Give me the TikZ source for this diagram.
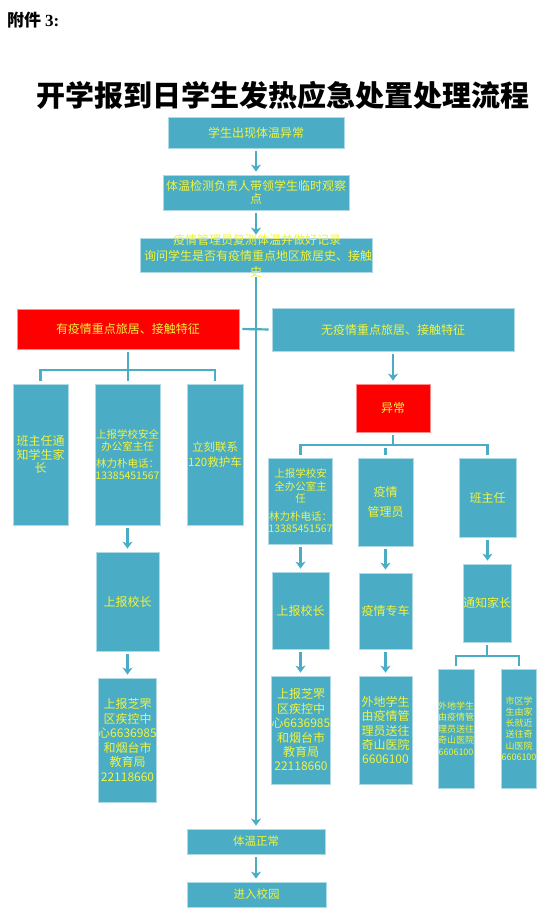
\documentclass[tikz,border=0pt]{standalone}
\usepackage{fontspec}
\newfontfamily\cjk{Noto Sans CJK SC}
\newfontfamily\tnr{Liberation Serif}
\usetikzlibrary{arrows.meta}
\definecolor{boxc}{HTML}{4BACC6}
\definecolor{txtc}{HTML}{F0F43C}
\definecolor{redc}{HTML}{FF0000}
\definecolor{lnc}{HTML}{4BACC6}
\newcommand\fs[2]{\fontsize{#1}{#2}\selectfont}
\newcommand\mkbox[7]{\node[#6, minimum width={#4-#2}, minimum height={#5-#3}] (#1) at ({(#2+#4)/2},{(#3+#5)/2}) {#7};}
\tikzset{
  bx/.style={fill=boxc, draw=boxc!45!white, line width=0.8pt, inner sep=0pt, align=center, text=txtc, font=\cjk\fs{12}{14}},
  rbx/.style={bx, fill=redc, draw=redc!45!white},
  txt/.style={inner sep=0pt, align=center, text=txtc, font=\cjk\fs{12}{14}},
  ln/.style={draw=lnc, line width=2.2pt, shorten <=3pt, shorten >=3pt},
  arr/.style={ln, -{Stealth[length=7pt,width=10pt,inset=2pt]}},
}
\begin{document}
\begin{tikzpicture}[x=1pt,y=-1pt]
\useasboundingbox (0,0) rectangle (555,919);
\fill[white] (0,0) rectangle (555,919);
% headings
\node[anchor=west, inner sep=0pt] (att) at (7,20) {\cjk\bfseries\fs{17}{17}附件\ \tnr\bfseries 3:};
\node[inner sep=0pt] (title) at (283,95) {\cjk\bfseries\fs{29}{29}开学报到日学生发热应急处置处理流程};
% top chain
\mkbox{b1}{168}{117}{344}{148}{bx}{学生出现体温异常}
\mkbox{b2}{163}{175}{349}{210}{bx, font=\cjk\fs{12}{13}}{体温检测负责人带领学生临时观察\\点}
\mkbox{b3}{140}{238}{372}{272}{bx}{}
\node[txt] (b3a) at (257,240) {疫情管理员复测体温并做好记录};
\node[txt] (b3b) at (258,256) {询问学生是否有疫情重点地区旅居史、接触};
\node[txt] (b3c) at (256,272) {史};
% branches
\mkbox{red}{17}{309}{239}{349}{rbx}{有疫情重点旅居、接触特征}
\mkbox{no}{272}{308}{514}{351}{bx}{无疫情重点旅居、接触特征}
% left branch
\mkbox{L1}{13}{384}{68}{525}{bx, font=\cjk\fs{12}{13.5}}{班主任通\\知学生家\\长}
\mkbox{L2}{95}{384}{160}{525}{bx, font=\cjk\fs{10.5}{12.5}}{上报学校安全\\办公室主任\\[4pt]林力朴电话：\\13385451567}
\mkbox{L3}{187}{384}{243}{525}{bx, font=\cjk\fs{11.5}{15}}{立刻联系\\120救护车}
\mkbox{L4}{96}{552}{159}{651}{bx}{上报校长}
\mkbox{L5}{99}{678}{156}{802}{bx, font=\cjk\fs{12}{14.6}}{上报芝罘\\区疾控中\\心6636985\\和烟台市\\教育局\\22118660}
% right branch
\mkbox{ab}{356}{384}{430}{432}{rbx}{异常}
\mkbox{R1}{270}{458}{331}{544}{bx, font=\cjk\fs{10.5}{12.5}}{上报学校安\\全办公室主\\任\\[5pt]林力朴电话：\\13385451567}
\mkbox{R2}{358}{458}{413}{546}{bx, font=\cjk\fs{12}{20}}{疫情\\管理员}
\mkbox{R3}{459}{458}{516}{537}{bx}{班主任}
\mkbox{R4}{272}{572}{329}{649}{bx}{上报校长}
\mkbox{R5}{274}{676}{328}{784}{bx, font=\cjk\fs{12}{14.4}}{上报芝罘\\区疾控中\\心6636985\\和烟台市\\教育局\\22118660}
\mkbox{R6}{359}{573}{412}{649}{bx}{疫情专车}
\mkbox{R7}{359}{676}{412}{784}{bx, font=\cjk\fs{12}{14.3}}{外地学生\\由疫情管\\理员送往\\奇山医院\\6606100}
\mkbox{R8}{463}{564}{511}{642}{bx}{通知家长}
\mkbox{R9}{438}{669}{474}{788}{bx, font=\cjk\fs{9}{11.5}}{外地学生\\由疫情管\\理员送往\\奇山医院\\6606100}
\mkbox{R10}{502}{669}{536}{788}{bx, font=\cjk\fs{9}{11.2}}{市区学\\生由家\\长就近\\送往奇\\山医院\\6606100}
% bottom
\mkbox{norm}{187}{829}{325}{854}{bx, font=\cjk\fs{11.5}{14}}{体温正常}
\mkbox{enter}{187}{882}{326}{907}{bx, font=\cjk\fs{11.5}{14}}{进入校园}
% connectors
\draw[arr] (b1.south) -- (b1.south |- b2.north);
\draw[arr] (b2.south) -- (b2.south |- b3.north);
\draw[arr, shorten <=5pt] (b3.south) -- (b3.south |- norm.north);
\draw[arr] (norm.south) -- (norm.south |- enter.north);
\draw[ln] (red.east) -- (no.west);
\coordinate (lj) at (128,370);
\draw[ln] (red.south) -- (red.south |- L2.north);
\draw[ln] (L1.north) |- (lj) -| (L3.north);
\draw[arr] (L2.south) -- (L2.south |- L4.north);
\draw[arr] (L4.south) -- (L4.south |- L5.north);
\draw[arr] (no.south) -- (no.south |- ab.north);
\coordinate (rj) at (393,445);
\draw[ln, shorten >=0pt] (ab.south) -- (rj);
\draw[ln] (R1.north) |- (rj) -| (R3.north);
\draw[ln] (R2.north) -- (R2.north |- rj);
\draw[arr] (R1.south) -- (R1.south |- R4.north);
\draw[arr] (R4.south) -- (R4.south |- R5.north);
\draw[arr] (R2.south) -- (R2.south |- R6.north);
\draw[arr] (R6.south) -- (R6.south |- R7.north);
\draw[arr] (R3.south) -- (R3.south |- R8.north);
\coordinate (r8j) at (487,656);
\draw[ln, shorten >=0pt] (R8.south) -- (r8j);
\draw[ln] (R9.north) |- (r8j) -| (R10.north);
\end{tikzpicture}
\end{document}
